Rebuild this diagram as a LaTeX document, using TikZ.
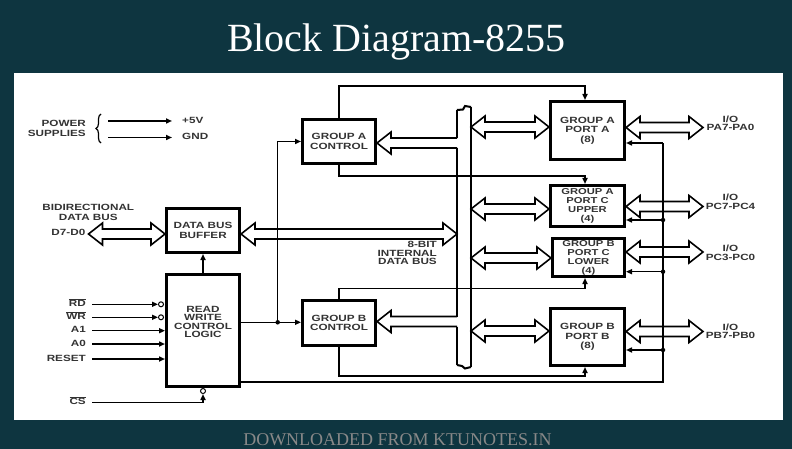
\documentclass[tikz,border=0pt]{standalone}
\usepackage{fontspec}
\setmainfont{Liberation Serif}
\newfontfamily\blockfont[FakeStretch=1.3]{Liberation Sans}
\usepackage{tikz}
\usetikzlibrary{arrows.meta,positioning,decorations.pathreplacing}
\definecolor{slideteal}{HTML}{0E3540}
\definecolor{footgray}{HTML}{888888}
\newcommand{\diag}{\blockfont\bfseries\fontsize{9}{9.5}\selectfont}
\newcommand{\diagtight}{\blockfont\bfseries\fontsize{9}{8.4}\selectfont}
\newcommand{\diagport}{\blockfont\bfseries\fontsize{8.6}{9}\selectfont}
% hollow bus arrow, heads at both ends (#1 left tip, #2 right tip)
\newcommand{\biarrow}[2]{%
  \draw[bus] (#1) -- ++(14,-11) -- ++(0,6) -- ([xshift=-14pt,yshift=5pt]#2)
    -- ++(0,-6) -- (#2) -- ++(-14,11) -- ++(0,-6)
    -- ([xshift=14pt,yshift=-5pt]#1) -- ++(0,6) -- cycle;}
% hollow bus arrow, head at #1, open end on the bus bar at #2
\newcommand{\onearrow}[2]{%
  \draw[bus] ([yshift=5pt]#2) -- ([xshift=14pt,yshift=5pt]#1) -- ++(0,-6) -- (#1)
    -- ++(14,11) -- ++(0,-6) -- ([yshift=-5pt]#2);}

\begin{document}
\begin{tikzpicture}[x=1pt,y=-1pt,
  lbl/.style={font=\diag,text=black!80,inner sep=1pt,align=center},
  box/.style={draw=black,line width=3pt,inner sep=0pt,align=center,font=\diag,text=black!80},
  wire/.style={draw=black,line width=1.5pt},
  feed/.style={wire,-{Triangle[length=6pt,width=5pt]}},
  bus/.style={draw=black,line width=1.6pt,line join=miter},
  busbar/.style={draw=black,line width=2pt},
  bubble/.style={circle,draw=black,line width=1pt,fill=white,inner sep=0pt,minimum size=5pt},
  dot/.style={circle,fill=black,inner sep=0pt,minimum size=4.5pt}
]
 \path[use as bounding box] (0,0) rectangle (792,449);
 \fill[slideteal] (0,0) rectangle (792,449);
 \fill[white] (14,73) rectangle (783,420);

 \node[font=\fontsize{40}{44}\selectfont,text=white,anchor=base] (title) at (396.5,51.7) {Block Diagram-8255};
 \node[font=\fontsize{18}{20}\selectfont,text=footgray,anchor=base] (foot) at (397.5,445) {DOWNLOADED FROM KTUNOTES.IN};

 % blocks
 \node[box,minimum width=73,minimum height=44] (dbb) at (203,230.5) {DATA BUS\\BUFFER};
 \node[box,minimum width=73,minimum height=112,
   label={[lbl,font=\diagtight,yshift=8.5pt]center:{READ\\WRITE\\CONTROL\\LOGIC}}] (rwcl) at (203,330.5) {};
 \node[box,minimum width=73,minimum height=44] (gac) at (339,141.5) {GROUP A\\CONTROL};
 \node[box,minimum width=73,minimum height=45] (gbc) at (339,323) {GROUP B\\CONTROL};
 \node[box,minimum width=74,minimum height=58] (pa) at (587.5,130.5) {GROUP A\\PORT A\\(8)};
 \node[box,minimum width=74,minimum height=41,font=\diagport] (pcu) at (587.5,206) {GROUP A\\PORT C\\UPPER\\(4)};
 \node[box,minimum width=72,minimum height=38,font=\diagport] (pcl) at (588.5,257.5) {GROUP B\\PORT C\\LOWER\\(4)};
 \node[box,minimum width=74,minimum height=57] (pb) at (587.5,337) {GROUP B\\PORT B\\(8)};

 % power supplies
 \node[lbl,anchor=east,align=right] (pwr) at (87,128.5) {POWER\\SUPPLIES};
 \draw[line width=1.2pt,decorate,decoration={brace,amplitude=5pt}] (101,143) -- (101,114);
 \node[lbl,anchor=mid west] (v5) at (181,121) {+5V};
 \node[lbl,anchor=mid west] (gnd) at (181,137.5) {GND};
 \draw[feed] ([xshift=-73pt]v5.mid west) -- ([xshift=-9pt]v5.mid west);
 \draw[feed] ([xshift=-73pt]gnd.mid west) -- ([xshift=-9pt]gnd.mid west);

 % external data bus
 \node[lbl] (bidir) at (88.3,212.5) {BIDIRECTIONAL\\DATA BUS};
 \node[lbl,anchor=mid east] (dlab) at (86.5,233) {D7-D0};
 \coordinate (dIn) at (88.5,234);
 \coordinate (dbbIn) at (dbb.west |- dIn);
 \biarrow{dIn}{dbbIn}

 % control inputs
 \node[lbl,anchor=mid east] (rdl) at (87,304.3) {$\overline{\hbox{RD}}$};
 \node[lbl,anchor=mid east] (wrl) at (87,317.3) {$\overline{\hbox{WR}}$};
 \node[lbl,anchor=mid east] (a1l) at (87,330.7) {A1};
 \node[lbl,anchor=mid east] (a0l) at (87,344) {A0};
 \node[lbl,anchor=mid east] (rstl) at (87,359) {RESET};
 \node[lbl,anchor=mid east] (csl) at (87,402.3) {$\overline{\hbox{CS}}$};
 \node[bubble] (rdb) at (161,304.3) {};
 \node[bubble] (wrb) at (161,317.3) {};
 \node[bubble] (csb) at (203,391) {};
 \draw[feed] ([xshift=5pt]rdl.mid east) -- (rdb.west);
 \draw[feed] ([xshift=5pt]wrl.mid east) -- (wrb.west);
 \foreach \s in {a1l,a0l,rstl}
   \draw[feed] ([xshift=5pt]\s.mid east) -- (\s.mid east -| rwcl.west);
 \draw[feed] ([xshift=5pt]csl.mid east) -| (csb.south);

 % read/write logic to the other blocks
 \node[dot] (jrw) at (277.7,322.3) {};
 \draw[wire] (rwcl.east |- jrw.center) -- (jrw.center);
 \draw[feed] (jrw.center) -- (gbc.west |- jrw.center);
 \draw[feed] (jrw.center) |- (gac.west);
 \draw[feed] (rwcl.north) -- (dbb.south);

 % internal bus bar with torn ends
 \draw[busbar] (471,107) -- (471,367);
 \draw[busbar] (457,110) -- (457,138);
 \draw[busbar] (457,148) -- (457,316.5);
 \draw[busbar] (457,326.5) -- (457,365);
 \draw[busbar] (457,110) -- (463,109.5) -- (465,106) -- (471,107);
 \draw[busbar] (457,365) -- (462,366) -- (465,368.5) -- (471,367);
 \node[lbl,anchor=east,align=right,font=\diagtight] (ibus) at (438,253) {8-BIT\\INTERNAL\\DATA BUS};

 \coordinate (busD) at (457,234);
 \coordinate (dbbOut) at (dbb.east |- busD);
 \biarrow{dbbOut}{busD}
 \coordinate (busGA) at (457,143);
 \coordinate (gaIn) at (gac.east |- busGA);
 \onearrow{gaIn}{busGA}
 \coordinate (busGB) at (457,321.5);
 \coordinate (gbIn) at (gbc.east |- busGB);
 \onearrow{gbIn}{busGB}

 % ports: bar side and I/O side
 \foreach \p/\yb/\yo in {pa/127/127.5,pcu/209/206.5,pcl/258/252,pb/331/331.5} {
   \coordinate (\p-bus) at (471,\yb);
   \coordinate (\p-in) at (\p.west |- \p-bus);
   \coordinate (\p-io) at (703,\yo);
   \coordinate (\p-out) at (\p.east |- \p-io);
   \biarrow{\p-bus}{\p-in}
   \biarrow{\p-out}{\p-io}
 }
 \node[lbl,font=\diagtight] (ioa) at (730.5,123) {I/O\\PA7-PA0};
 \node[lbl,font=\diagtight] (iocu) at (730.5,201.7) {I/O\\PC7-PC4};
 \node[lbl,font=\diagtight] (iocl) at (730.5,252.7) {I/O\\PC3-PC0};
 \node[lbl,font=\diagtight] (iob) at (730.5,331) {I/O\\PB7-PB0};

 % group control lines
 \draw[feed] (gac.north) -- ++(0,-32) -| ([xshift=-2.5pt]pa.north);
 \draw[feed] (gac.south) -- ++(0,11) -| ([xshift=-2.5pt]pcu.north);
 \draw[feed] (gbc.north) -- ++(0,-10.5) -| ([xshift=-3.5pt]pcl.south);
 \draw[feed] (gbc.south) -- ++(0,29) -| ([xshift=-2.5pt]pb.south);

 % return line on the right
 \coordinate (rtop) at (663,143);
 \coordinate (rbot) at (663,382);
 \draw[wire] (rwcl.east |- rbot) -- (rbot) -- (rtop);
 \draw[feed] (rtop) -- (pa.east |- rtop);
 \foreach \p/\yy in {pcu/220,pcl/271.7,pb/350} {
   \node[dot] (\p-dot) at (663,\yy) {};
   \draw[feed] (\p-dot.center) -- (\p.east |- \p-dot.center);
 }
\end{tikzpicture}
\end{document}
